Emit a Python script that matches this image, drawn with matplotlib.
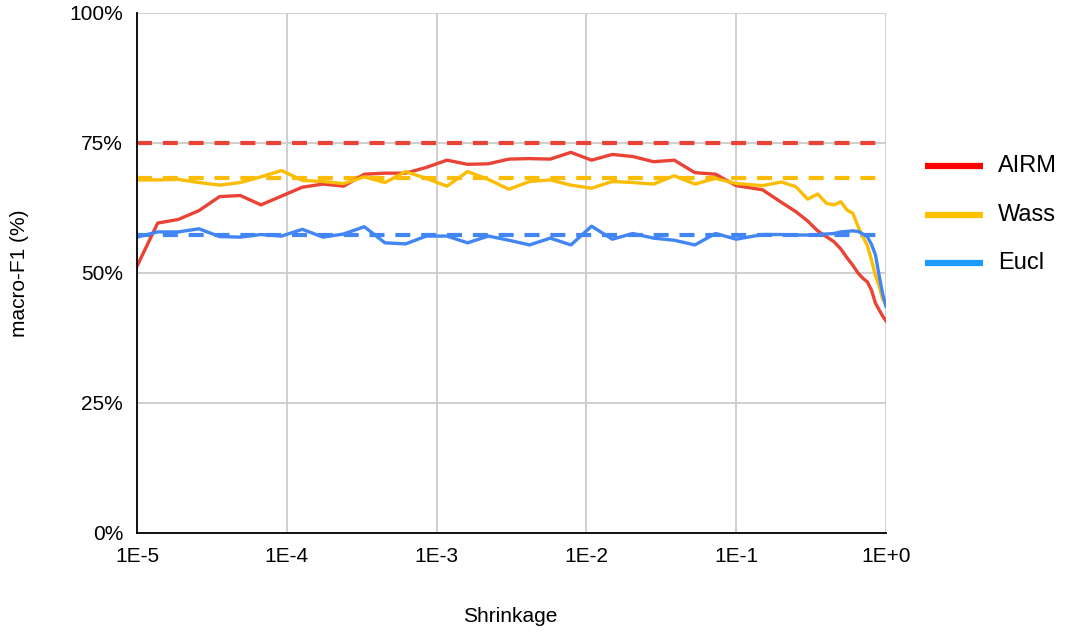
import matplotlib
matplotlib.use("Agg")
import matplotlib.pyplot as plt
from matplotlib.lines import Line2D

plt.rcParams['font.family'] = ['Liberation Sans', 'DejaVu Sans']

# Shrinkage values (log-spaced part, then linear part)
shrinkage = [1.000e-5, 1.374e-5, 1.887e-5, 2.593e-5, 3.562e-5, 4.894e-5, 6.723e-5, 9.237e-5,
             1.269e-4, 1.743e-4, 2.395e-4, 3.290e-4, 4.520e-4, 6.210e-4, 8.532e-4,
             1.172e-3, 1.610e-3, 2.212e-3, 3.039e-3, 4.175e-3, 5.736e-3, 7.880e-3,
             1.083e-2, 1.487e-2, 2.043e-2, 2.807e-2, 3.857e-2, 5.298e-2, 7.279e-2, 1.0e-1,
             0.15, 0.20, 0.25, 0.30, 0.35, 0.40, 0.45, 0.50, 0.55, 0.60,
             0.65, 0.70, 0.75, 0.80, 0.85, 0.90, 0.95, 1.00]

airm = [51.3, 59.6, 60.3, 62.0, 64.7, 64.9, 63.1, 64.8, 66.5, 67.1, 66.7, 69.0, 69.2, 69.2, 70.3,
        71.7, 70.9, 71.0, 71.9, 72.0, 71.9, 73.2, 71.7, 72.8, 72.4, 71.4, 71.7, 69.3, 69.0, 66.8,
        66.0, 63.6, 61.8, 60.0, 58.1, 57.0, 56.0, 54.6, 52.9, 51.5, 50.0, 49.0, 48.3, 46.7, 44.2,
        42.9, 41.7, 40.8]

wass = [67.9, 67.9, 68.0, 67.4, 66.9, 67.4, 68.5, 69.7, 67.8, 67.6, 67.2, 68.5, 67.4, 69.5, 68.2,
        66.7, 69.5, 68.0, 66.1, 67.6, 67.9, 66.9, 66.3, 67.6, 67.4, 67.1, 68.7, 67.1, 68.2, 67.2,
        66.8, 67.5, 66.6, 64.2, 65.2, 63.4, 63.1, 63.7, 62.1, 61.5, 59.0, 57.0, 55.3, 52.5, 49.5,
        47.5, 45.0, 43.8]

eucl = [56.9, 57.9, 57.9, 58.5, 57.0, 56.9, 57.4, 57.1, 58.4, 56.9, 57.5, 58.9, 55.8, 55.6, 57.1,
        57.1, 55.8, 57.1, 56.3, 55.4, 56.7, 55.4, 59.0, 56.5, 57.6, 56.7, 56.3, 55.4, 57.6, 56.5,
        57.4, 57.4, 57.3, 57.3, 57.4, 57.5, 57.6, 57.9, 58.0, 58.1, 58.0, 57.5, 57.0, 55.5, 53.5,
        49.5, 46.0, 43.6]

baseline_airm = 75.0
baseline_wass = 68.3
baseline_eucl = 57.3

series_names = ["AIRM", "Wass", "Eucl"]
line_colors = ["#EA4335", "#FBBC04", "#4285F4"]
legend_colors = ["#FF0000", "#FFC000", "#1E9BFF"]

x_ticks = [1e-5, 1e-4, 1e-3, 1e-2, 1e-1, 1e0]
x_tick_labels = ["1E-5", "1E-4", "1E-3", "1E-2", "1E-1", "1E+0"]
y_ticks = [0, 25, 50, 75, 100]
y_tick_labels = ["0%", "25%", "50%", "75%", "100%"]

W, H = 1067, 635
fig = plt.figure(figsize=(W / 100, H / 100), dpi=100)
ax = fig.add_axes([137 / W, 1 - 533 / H, (886 - 137) / W, (533 - 13) / H])

ax.set_xscale('log')
ax.set_xlim(1e-5, 1e0)
ax.set_ylim(0, 100)

for base, c in zip([baseline_airm, baseline_wass, baseline_eucl], line_colors):
    ax.plot([1e-5, 1e0], [base, base], color=c, lw=3.0, dashes=(3.6, 2.6), zorder=3,
            solid_capstyle='butt', dash_capstyle='butt')
for vals, c in zip([airm, wass, eucl], line_colors):
    ax.plot(shrinkage, vals, color=c, lw=2.4, zorder=4, solid_joinstyle='round')

ax.set_xticks(x_ticks)
ax.set_xticklabels(x_tick_labels)
ax.minorticks_off()
ax.set_yticks(y_ticks)
ax.set_yticklabels(y_tick_labels)
ax.tick_params(length=0, labelsize=15, colors='#000000', pad=10)
ax.tick_params(axis='y', pad=10)
ax.grid(True, color='#cccccc', lw=1.3, zorder=0)
ax.set_axisbelow(True)
for s in ['top', 'right']:
    ax.spines[s].set_visible(False)
for s in ['left', 'bottom']:
    ax.spines[s].set_color('#000000')
    ax.spines[s].set_linewidth(1.3)
    ax.spines[s].set_zorder(5)

fig.text(20 / W, 1 - 273 / H, "macro-F1 (%)", rotation=90, ha='center', va='center', fontsize=15)
fig.text(510 / W, 1 - 617 / H, "Shrinkage", ha='center', va='center', fontsize=15)

# legend
leg_y = [166, 215, 263]
for name, c, yy in zip(series_names, legend_colors, leg_y):
    fig.add_artist(Line2D([925 / W, 983 / W], [1 - yy / H, 1 - yy / H], color=c, lw=4.5,
                          transform=fig.transFigure, solid_capstyle='butt'))
    fig.text(998 / W, 1 - yy / H, name, ha='left', va='center', fontsize=17)

fig.savefig("out.png", dpi=100)
